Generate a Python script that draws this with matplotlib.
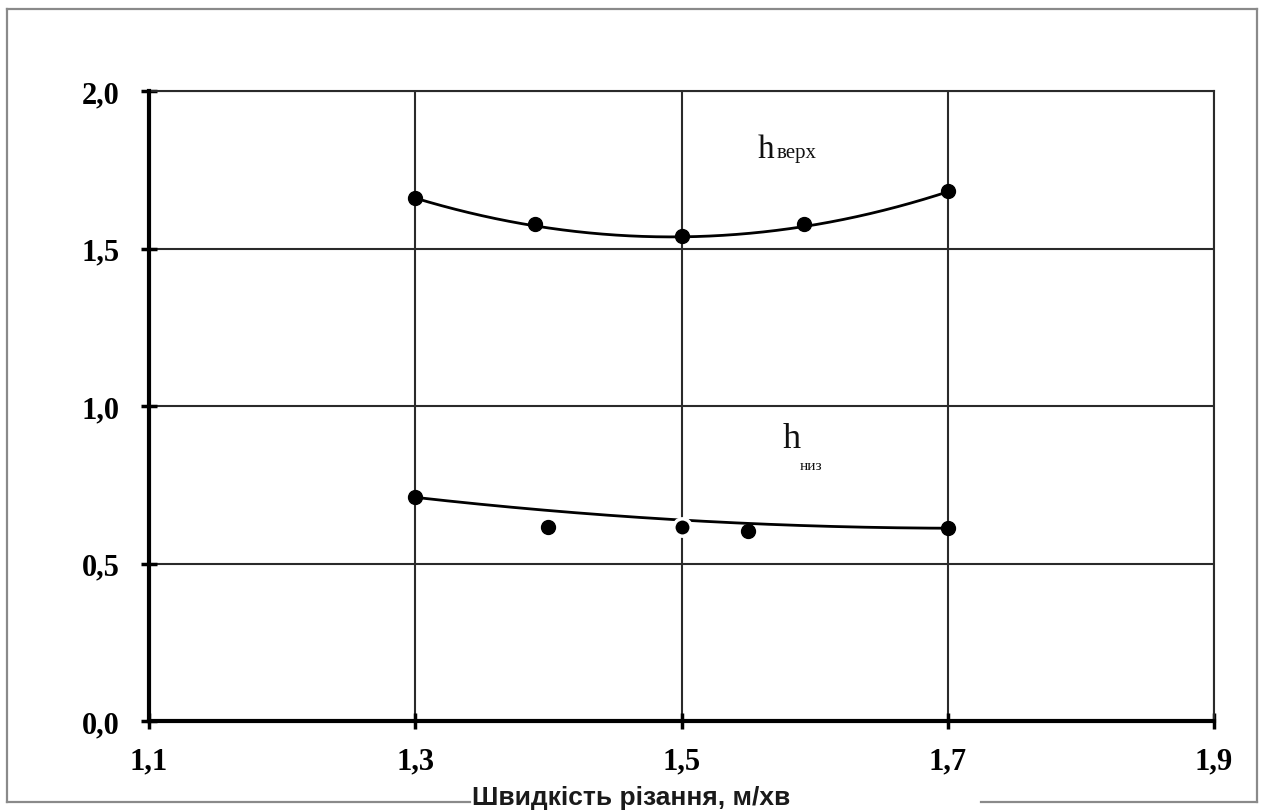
import numpy as np
import matplotlib.pyplot as plt
from matplotlib.lines import Line2D

# measured points
x_top = [1.30, 1.39, 1.50, 1.592, 1.70]
y_top = [1.66, 1.578, 1.54, 1.578, 1.683]
x_low = [1.30, 1.40, 1.50, 1.55, 1.70]
y_low = [0.71, 0.616, 0.616, 0.603, 0.613]

# trend line values (quadratic through them)
trend_x = [1.3, 1.5, 1.7]
trend_top = [1.66, 1.537, 1.68]
trend_low = [0.71, 0.638, 0.612]

xticks = [1.1, 1.3, 1.5, 1.7, 1.9]
xtick_labels = ['1,1', '1,3', '1,5', '1,7', '1,9']
yticks = [0.0, 0.5, 1.0, 1.5, 2.0]
ytick_labels = ['0,0', '0,5', '1,0', '1,5', '2,0']

W, H = 1266, 812
fig = plt.figure(figsize=(W / 100, H / 100), dpi=100)
ax = fig.add_axes([149 / W, 90 / H, (1214 - 149) / W, (722 - 92) / H])

grid_c = '#2a2a2a'
ax.set_xlim(1.1, 1.9)
ax.set_ylim(0, 2.0)
ax.set_xticks(xticks)
ax.set_xticklabels(xtick_labels)
ax.set_yticks(yticks)
ax.set_yticklabels(ytick_labels)
ax.grid(True, color=grid_c, linewidth=1.5)
ax.set_axisbelow(True)

for s in ['top', 'right']:
    ax.spines[s].set_linewidth(1.5)
    ax.spines[s].set_color(grid_c)
for s in ['left', 'bottom']:
    ax.spines[s].set_linewidth(3)
    ax.spines[s].set_color('black')
    ax.spines[s].set_zorder(5)

ax.tick_params(axis='both', direction='inout', length=12, width=2.5, color='black')
ax.tick_params(axis='y', pad=15)
ax.tick_params(axis='x', pad=12)
for lab in ax.get_xticklabels() + ax.get_yticklabels():
    lab.set_fontfamily('Liberation Serif')
    lab.set_fontweight('bold')
    lab.set_fontsize(22)

# smooth curves
xs = np.linspace(1.3, 1.7, 200)
ct = np.polyfit(trend_x, trend_top, 2)
cl = np.polyfit(trend_x, trend_low, 2)
ax.plot(xs, np.polyval(ct, xs), color='black', lw=2, zorder=3)
ax.plot(xs, np.polyval(cl, xs), color='black', lw=2, zorder=3)

ax.plot(x_top, y_top, 'o', color='black', ms=10, zorder=4, clip_on=False)
for xv, yv in zip(x_low, y_low):
    if xv == 1.5:
        ax.plot([xv], [yv], 'o', color='black', mec='white', mew=2.5, ms=12.5, zorder=4)
    else:
        ax.plot([xv], [yv], 'o', color='black', ms=10, zorder=4)

# curve labels
ax.text(1.557, 1.79, 'h', family='Liberation Serif', fontsize=24, color='#111111')
ax.text(1.5715, 1.79, 'верх', family='Liberation Serif', fontsize=15, color='#111111')
ax.text(1.576, 0.87, 'h', family='Liberation Serif', fontsize=26, color='#111111')
ax.text(1.589, 0.80, 'низ', family='Liberation Serif', fontsize=11, color='#111111')

# outer frame with gap for axis title
fc = '#8a8a8a'
def fline(xp, yp):
    fig.add_artist(Line2D([v / W for v in xp], [1 - v / H for v in yp],
                          color=fc, lw=1.6))

fline([7, 7], [10, 803])
fline([7, 1257], [10, 10])
fline([1257, 1257], [10, 803])
fline([7, 470], [803, 803])
fline([981, 1257], [803, 803])

fig.text(472 / W, 1 - 798 / H, 'Швидкість різання, м/хв',
         family='Liberation Sans', weight='bold',
         fontsize=19, color='#1a1a1a', ha='left', va='center')

fig.savefig('out.png', dpi=100, facecolor='white')
